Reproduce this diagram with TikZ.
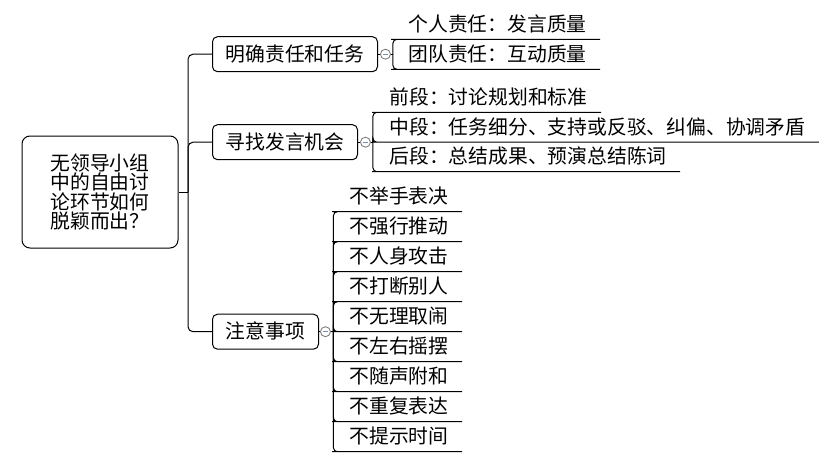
\documentclass[tikz,border=0pt]{standalone}
\usepackage{fontspec}
\setmainfont{Noto Sans CJK SC}
\usetikzlibrary{positioning}
\definecolor{foldgray}{HTML}{7F7F7F}
\definecolor{foldminus}{HTML}{7E8CB0}

\begin{document}
\begin{tikzpicture}[
    x=1pt, y=-1pt,
    line width=1pt,
    font=\fontsize{19.8}{19.5}\selectfont,
    root/.style={draw, rounded corners=8pt, minimum width=156pt, minimum height=112pt, align=center, inner sep=0pt},
    topic/.style={draw, rounded corners=5pt, minimum height=35pt, anchor=west, inner sep=0pt, text height=16pt, text depth=2pt},
    fold/.style={circle, draw=foldgray, fill=white, minimum size=10pt, inner sep=0pt, line width=0.9pt,
        path picture={\draw[foldminus, line width=1pt] ([xshift=-2.8pt]path picture bounding box.center) -- ([xshift=2.8pt]path picture bounding box.center);}},
    leaf/.style={anchor=south west, inner xsep=13pt, inner ysep=5.4pt, text height=16pt, text depth=2pt},
    link/.style={rounded corners=5pt},
    twig/.style={rounded corners=4pt}
]
\useasboundingbox (0,0) rectangle (838,460);

% Root and trunk
\node[root] (Q) at (100,192) {无领导小组\\中的自由讨\\论环节如何\\脱颖而出？};
\coordinate (T) at (188,192);
\draw (Q) -- (T);

% Main topics
\node[topic, minimum width=165pt] (Duty) at (212,54.2) {明确责任和任务};
\node[topic, minimum width=145pt] (Chance) at (212,142.2) {寻找发言机会};
\node[topic, minimum width=106pt] (Note) at (212,331.7) {注意事项};

\draw[link] (T) |- (Duty);
\draw[link] (T) |- (Chance);
\draw[link] (T) |- (Note);

% Fold markers
\node[fold, right=2pt of Duty] (F1) {};
\node[fold, right=2pt of Chance] (F2) {};
\node[fold, right=1pt of Note] (F3) {};
\coordinate[right=2pt of F1] (J1);
\coordinate[right=2pt of F2] (J2);
\coordinate[right=2.5pt of F3] (J3);
\draw (Duty) -- (F1) -- (J1);
\draw (Chance) -- (F2) -- (J2);
\draw (Note) -- (F3) -- (J3);

% Leaves of first topic
\node[leaf] (D1) at (395,39.3) {个人责任：发言质量};
\node[leaf] (D2) at (395,69.3) {团队责任：互动质量};
\draw[twig] (J1) |- (D1.south west) -- (D1.south east);
\draw[twig] (J1) |- (D2.south west) -- (D2.south east);

% Leaves of second topic
\node[leaf] (C1) at (376,112.3) {前段：讨论规划和标准};
\node[leaf] (C2) at (376,142.2) {中段：任务细分、支持或反驳、纠偏、协调矛盾};
\node[leaf] (C3) at (376,171.7) {后段：总结成果、预演总结陈词};
\draw[twig] (J2) |- (C1.south west) -- (C1.south east);
\draw[twig] (J2) |- (C2.south west) -- (C2.south east);
\draw[twig] (J2) |- (C3.south west) -- (C3.south east);

% Leaves of third topic
\node[leaf] (N1) at (336,211.7) {不举手表决};
\node[leaf] (N2) at (336,241.7) {不强行推动};
\node[leaf] (N3) at (336,271.7) {不人身攻击};
\node[leaf] (N4) at (336,301.7) {不打断别人};
\node[leaf] (N5) at (336,331.7) {不无理取闹};
\node[leaf] (N6) at (336,361.7) {不左右摇摆};
\node[leaf] (N7) at (336,391.7) {不随声附和};
\node[leaf] (N8) at (336,421.7) {不重复表达};
\node[leaf] (N9) at (336,451.7) {不提示时间};
\draw[twig] (J3) |- (N1.south west) -- (N1.south east);
\draw[twig] (J3) |- (N2.south west) -- (N2.south east);
\draw[twig] (J3) |- (N3.south west) -- (N3.south east);
\draw[twig] (J3) |- (N4.south west) -- (N4.south east);
\draw[twig] (J3) |- (N5.south west) -- (N5.south east);
\draw[twig] (J3) |- (N6.south west) -- (N6.south east);
\draw[twig] (J3) |- (N7.south west) -- (N7.south east);
\draw[twig] (J3) |- (N8.south west) -- (N8.south east);
\draw[twig] (J3) |- (N9.south west) -- (N9.south east);

\end{tikzpicture}
\end{document}
